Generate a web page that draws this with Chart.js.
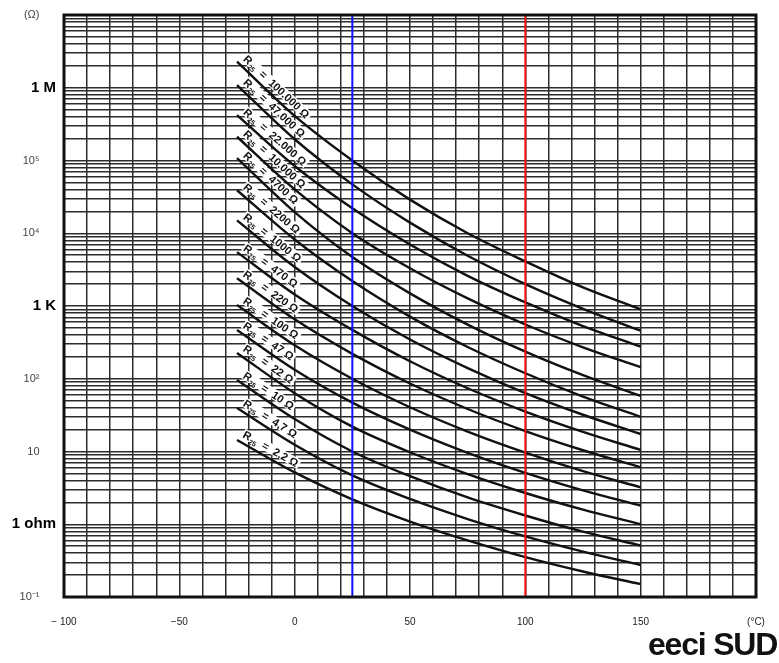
<!DOCTYPE html>
<html>
<head>
<meta charset="utf-8">
<script src="https://cdn.jsdelivr.net/npm/chart.js@4.4.1/dist/chart.umd.min.js"></script>
<style>
  html, body { margin: 0; padding: 0; background: #fff; overflow: hidden; }
  #wrap { position: relative; width: 779px; height: 663px; overflow: hidden; }
  #logo {
    position: absolute; left: 648px; top: 627px;
    font: bold 32px 'Liberation Sans', Arial, sans-serif;
    letter-spacing: -1.2px; color: #111; line-height: 34px;
  }
</style>
</head>
<body>
<div id="wrap">
  <canvas id="ntcChart" width="779" height="663"></canvas>
  <div id="logo">eeci SUD</div>
</div>
<script>
// =========================
// DATA
// =========================

// temperature (°C) of the read points
const temps = [-25, 0, 25, 50, 75, 100, 125, 150];

// resistance (Ω) of each curve at those temperatures
const r100000 = [2.28e6, 4.1e5, 1.0e5, 2.9e4, 1.0e4, 4.1e3, 1.8e3, 900];
const r47000  = [1.09e6, 1.96e5, 4.7e4, 1.4e4, 4.9e3, 2.0e3, 915, 457];
const r22000  = [4.2e5, 8.4e4, 2.2e4, 7.0e3, 2.6e3, 1.12e3, 530, 276];
const r10000  = [2.12e5, 4.0e4, 1.0e4, 3.3e3, 1.27e3, 557, 271, 144];
const r4700   = [1.08e5, 1.95e4, 4.7e3, 1.49e3, 555, 236, 112, 58];
const r2200   = [3.9e4, 8.2e3, 2.2e3, 714, 273, 119, 57, 30];
const r1000   = [1.5e4, 3.44e3, 1.0e3, 346, 140, 63.5, 32, 17.4];
const r470    = [5.5e3, 1.44e3, 470, 174, 74, 35.4, 18.6, 10.5];
const r220    = [2.4e3, 655, 220, 86, 38.4, 19.1, 10.4, 6.06];
const r100    = [1.03e3, 289, 100, 40.6, 18.8, 9.66, 5.38, 3.22];
const r47     = [468, 133, 47, 20, 9.6, 5.1, 2.93, 1.8];
const r22     = [226, 63.4, 22, 9.77, 4.89, 2.69, 1.59, 1.0];
const r10     = [96, 27.9, 10, 4.58, 2.34, 1.32, 0.79, 0.51];
const r4_7    = [39.6, 12.4, 4.7, 2.23, 1.18, 0.68, 0.42, 0.275];
const r2_2    = [14.4, 5.16, 2.2, 1.09, 0.60, 0.353, 0.224, 0.15];

const curveValues = [
  r100000, r47000, r22000, r10000, r4700, r2200, r1000,
  r470, r220, r100, r47, r22, r10, r4_7, r2_2
];

const curveNames = [
  '100.000 Ω', '47.000 Ω', '22.000 Ω', '10.000 Ω', '4700 Ω',
  '2200 Ω', '1000 Ω', '470 Ω', '220 Ω', '100 Ω', '47 Ω',
  '22 Ω', '10 Ω', '4,7 Ω', '2,2 Ω'
];

// reference temperatures marked by the coloured lines
const blueTemp = 25;
const redTemp = 100;

// axis labels
const yTickValues = [0.1, 1, 10, 100, 1e3, 1e4, 1e5, 1e6, 1e7];
const yTickLabels = ['10⁻¹', '1 ohm', '10', '10²', '1 K', '10⁴', '10⁵', '1 M', '(Ω)'];
const yBigLabels = ['1 ohm', '1 K', '1 M'];

const xTickValues = [-100, -50, 0, 50, 100, 150, 200];
const xTickLabels = ['− 100', '−50', '0', '50', '100', '150', '(°C)'];


// =========================
// HELPERS
// =========================

function yLabelFor(v) {
  const i = yTickValues.findIndex(t =>
    Math.abs(Math.log10(t) - Math.log10(v)) < 1e-6
  );
  return i < 0 ? '' : yTickLabels[i];
}

function xLabelFor(v) {
  const i = xTickValues.indexOf(v);
  return i < 0 ? '' : xTickLabels[i];
}

const FONT = "'Liberation Sans', Arial, sans-serif";


// =========================
// PLUGINS
// =========================

const frame = {
  id: 'frame',
  afterDraw(chart) {
    const a = chart.chartArea;
    const c = chart.ctx;
    c.save();
    c.strokeStyle = '#111';
    c.lineWidth = 3;
    c.strokeRect(a.left, a.top, a.right - a.left, a.bottom - a.top);
    c.restore();
  }
};

const curveLabels = {
  id: 'curveLabels',
  afterDatasetsDraw(chart) {
    const c = chart.ctx;
    chart.data.datasets.forEach((ds, i) => {
      if (!ds.r25) return;
      const pts = chart.getDatasetMeta(i).data;
      const p0 = pts[0];
      const p1 = pts[1];
      const ang = Math.atan2(p1.y - p0.y, p1.x - p0.x);

      c.save();
      c.translate(p0.x, p0.y);
      c.rotate(ang);

      const big = 'bold 11px ' + FONT;
      const sub = 'bold 7px ' + FONT;
      const rest = '  =  ' + ds.r25;

      c.font = big;
      const wR = c.measureText('R').width;
      const wRest = c.measureText(rest).width;
      c.font = sub;
      const wSub = c.measureText('25').width;
      const total = wR + wSub + wRest;

      c.fillStyle = '#fff';
      c.fillRect(2, -14, total + 3, 10);

      c.fillStyle = '#111';
      c.textBaseline = 'alphabetic';
      c.font = big;
      c.fillText('R', 3, -5);
      c.font = sub;
      c.fillText('25', 3 + wR, -2.5);
      c.font = big;
      c.fillText(rest, 3 + wR + wSub, -5);

      c.restore();
    });
  }
};


// =========================
// CHART
// =========================

const curveSets = curveValues.map((vals, k) => ({
  r25: curveNames[k],
  data: temps.map((t, j) => ({ x: t, y: vals[j] })),
  borderColor: '#111',
  borderWidth: 2.4,
  pointRadius: 0,
  cubicInterpolationMode: 'monotone',
  fill: false
}));

const markerSets = [
  { t: blueTemp, color: '#1010ff' },
  { t: redTemp, color: '#ff1010' }
].map(m => ({
  data: [{ x: m.t, y: 0.1 }, { x: m.t, y: 1e7 }],
  borderColor: m.color,
  borderWidth: 2,
  pointRadius: 0,
  fill: false
}));

const ctx = document.getElementById('ntcChart');

new Chart(ctx, {

  type: 'line',

  data: {
    datasets: markerSets.concat(curveSets)
  },

  options: {
    responsive: false,
    animation: false,
    devicePixelRatio: 1,
    layout: {
      padding: { left: 0, top: 15, right: 23, bottom: 26 }
    },
    plugins: {
      legend: { display: false },
      tooltip: { enabled: false }
    },
    scales: {

      x: {
        type: 'linear',
        min: -100,
        max: 200,
        afterBuildTicks(scale) {
          const ticks = [];
          for (let v = -100; v <= 200; v += 10) ticks.push({ value: v });
          scale.ticks = ticks;
        },
        afterFit(scale) {
          scale.height = 40;
          scale.paddingLeft = 0;
          scale.paddingRight = 0;
        },
        grid: {
          color: '#2c2c2c',
          lineWidth: 1.5,
          drawTicks: false
        },
        border: { display: false },
        ticks: {
          autoSkip: false,
          maxRotation: 0,
          padding: 19,
          color: '#222',
          font: { family: FONT, size: 10 },
          callback: v => xLabelFor(v)
        }
      },

      y: {
        type: 'logarithmic',
        min: 0.1,
        max: 1e7,
        afterBuildTicks(scale) {
          const ticks = [];
          for (let e = -1; e < 7; e++) {
            for (let m = 1; m <= 9; m++) {
              const v = m === 1 ? yTickValues[e + 1] : m * Math.pow(10, e);
              ticks.push({ value: v, major: m === 1 });
            }
          }
          ticks.push({ value: 1e7, major: true });
          scale.ticks = ticks;
        },
        afterFit(scale) { scale.width = 64; },
        grid: {
          color: '#2c2c2c',
          lineWidth: 1.5,
          drawTicks: false
        },
        border: { display: false },
        ticks: {
          autoSkip: false,
          padding: 8,
          color: c => {
            const lab = c.tick ? yLabelFor(c.tick.value) : '';
            return yBigLabels.includes(lab) ? '#000' : '#444';
          },
          font: c => {
            const lab = c.tick ? yLabelFor(c.tick.value) : '';
            return yBigLabels.includes(lab)
              ? { family: FONT, size: 15, weight: 'bold' }
              : { family: FONT, size: 11 };
          },
          callback: v => {
            const lab = yLabelFor(v);
            if (lab === '') return '';
            return yBigLabels.includes(lab) ? lab : lab + '\u2002\u2002\u2002';
          }
        }
      }
    }
  },

  plugins: [curveLabels, frame]
});
</script>
</body>
</html>
